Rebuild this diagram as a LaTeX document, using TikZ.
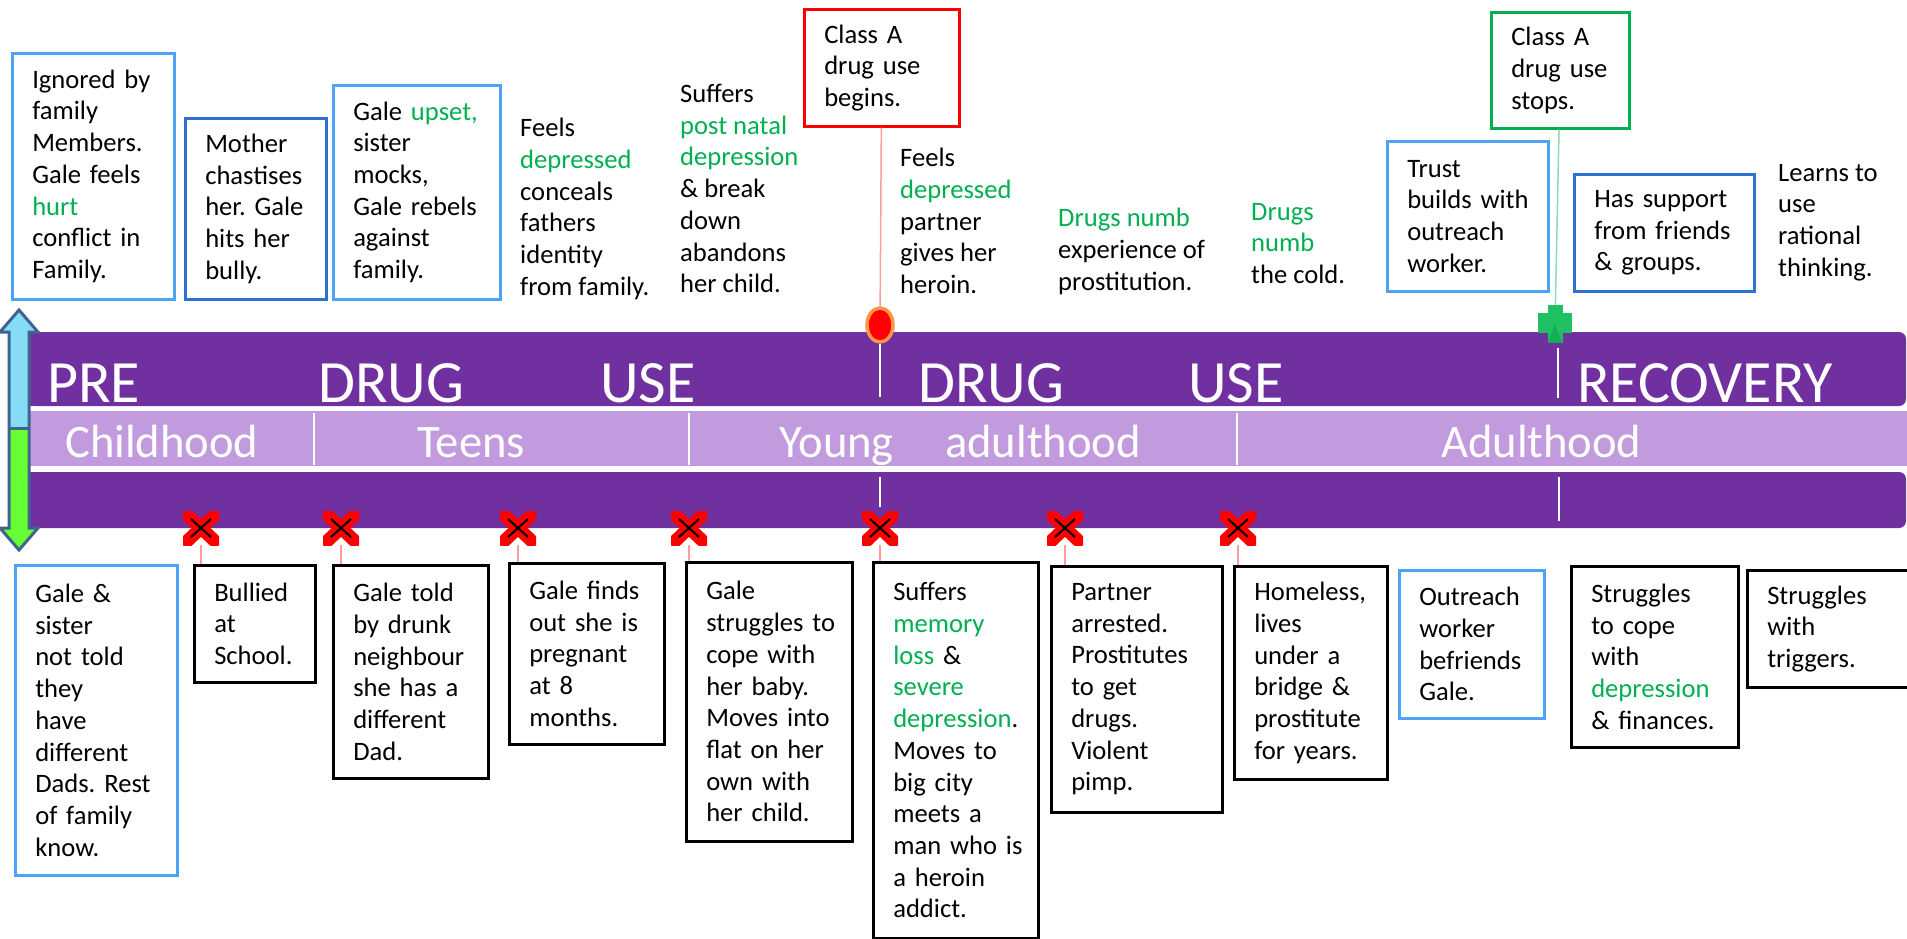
\documentclass[tikz,border=0pt]{standalone}
\usepackage{fontspec}
\setmainfont{Carlito}
\usepackage{xcolor}
\usetikzlibrary{shapes.geometric}

\definecolor{bandpurple}{HTML}{7030A0}
\definecolor{bandlilac}{HTML}{C29BDF}
\definecolor{hlgreen}{HTML}{00B050}
\definecolor{boxblue}{HTML}{4DA3F7}
\definecolor{boxblueD}{HTML}{2C72D2}
\definecolor{linkpink}{HTML}{FF9C9C}
\definecolor{linkgreen}{HTML}{8EDDAE}
\definecolor{arrowedge}{HTML}{41648D}
\definecolor{arrowsky}{HTML}{86DCF6}
\definecolor{arrowlime}{HTML}{66FF33}
\definecolor{ovalring}{HTML}{F79646}
\definecolor{crossgreen}{HTML}{1FC162}

\newcommand{\evfont}{\fontsize{26.6}{31.7}\selectfont}
\newcommand{\grn}[1]{\textcolor{hlgreen}{#1}}

\begin{document}
\begin{tikzpicture}[x=1pt,y=-1pt,
  evbox/.style={draw=black, line width=2.5pt, anchor=north west, align=left,
                inner xsep=20pt, inner ysep=0pt, font=\evfont},
  evtext/.style={anchor=north west, align=left, inner sep=0pt, font=\evfont},
  bandword/.style={anchor=base west, inner sep=0pt, text=white,
                   font=\fontsize{60}{72}\selectfont},
  agelabel/.style={anchor=base west, inner sep=0pt, text=white,
                   font=\fontsize{46.6}{56}\selectfont},
  xmark/.style={minimum width=36pt, minimum height=34pt, inner sep=0pt,
    path picture={
      \draw[red, line width=13pt]
        (path picture bounding box.north west) -- (path picture bounding box.south east)
        (path picture bounding box.south west) -- (path picture bounding box.north east);
      \draw[black, line width=2pt]
        ([shift={(-10pt,-9pt)}]path picture bounding box.center) --
        ([shift={(10pt,9pt)}]path picture bounding box.center)
        ([shift={(-10pt,9pt)}]path picture bounding box.center) --
        ([shift={(10pt,-9pt)}]path picture bounding box.center);
    }},
  plusmark/.style={minimum width=34pt, minimum height=38pt, inner sep=0pt,
    path picture={
      \fill[crossgreen]
        ([xshift=-7.5pt]path picture bounding box.north) rectangle
        ([xshift=7.5pt]path picture bounding box.south);
      \fill[crossgreen]
        ([yshift=-8pt]path picture bounding box.north west) rectangle
        ([yshift=-28pt]path picture bounding box.north east);
      \fill[hlgreen!80!black, opacity=.35]
        (path picture bounding box.center) --
        ([xshift=7.5pt]path picture bounding box.south) --
        ([xshift=-7.5pt]path picture bounding box.south) -- cycle;
    }},
  link/.style={linkpink, line width=1.5pt},
  seam/.style={white, line width=1.5pt}]
\useasboundingbox (0,0) rectangle (1907,938);
\fill[white] (0,0) rectangle (1907,938);
% timeline bands
\fill[bandpurple, rounded corners=7pt] (29,332) rectangle (1906,406);
\fill[bandpurple] (29,332) rectangle (80,406);
\fill[bandlilac] (29,411) rectangle (1907,466);
\fill[bandpurple, rounded corners=7pt] (29,472) rectangle (1906,528);
\fill[bandpurple] (29,472) rectangle (80,528);
\draw[seam] (314,413) -- (314,465);
\draw[seam] (689,413) -- (689,465);
\draw[seam] (1237,413) -- (1237,465);
% band words
\node[bandword] (pre) at (47,402) {PRE};
\node[bandword] (drug1) at (318,402) {DRUG};
\node[bandword] (use1) at (600,402) {USE};
\node[bandword] (drug2) at (918,402) {DRUG};
\node[bandword] (use2) at (1188,402) {USE};
\node[bandword] (recovery) at (1577,402) {RECOVERY};
\node[agelabel] (childhood) at (65,457) {Childhood};
\node[agelabel] (teens) at (417,457) {Teens};
\node[agelabel] (young) at (779,457) {Young};
\node[agelabel] (adulthood) at (945,457) {adulthood};
\node[agelabel] (adult) at (1441,457) {Adulthood};
% up and down arrow
\begin{scope}
  \clip (19,310) -- (38,332) -- (29,332) -- (29,528) -- (38,528) -- (19,550) --
        (0,528) -- (9,528) -- (9,332) -- (0,332) -- cycle;
  \fill[arrowsky] (0,300) rectangle (40,428);
  \fill[arrowlime] (0,428) rectangle (40,560);
\end{scope}
\draw[arrowedge, line width=3pt, line join=miter]
  (19,310) -- (38,332) -- (29,332) -- (29,528) -- (38,528) -- (19,550) --
  (0,528) -- (9,528) -- (9,332) -- (0,332) -- cycle;
\draw[arrowedge, line width=3pt] (9,428) -- (29,428);
% drug use begins / stops
\node[ellipse, draw=ovalring, line width=3.5pt, fill=red, inner sep=0pt,
      minimum width=26pt, minimum height=34pt] (usestart) at (880,325) {};
\node[plusmark] (usestop) at (1555,324) {};
\draw[seam] (usestart.south) -- (880,397);
\draw[seam] (880,477) -- (880,507);
\draw[seam] (1558,348) -- (1558,398);
\draw[seam] (1559,477) -- (1559,521);
% markers
\node[xmark] (xm1) at (201,528) {};
\node[xmark] (xm2) at (341,528) {};
\node[xmark] (xm3) at (518,528) {};
\node[xmark] (xm4) at (689,528) {};
\node[xmark] (xm5) at (880,528) {};
\node[xmark] (xm6) at (1065,528) {};
\node[xmark] (xm7) at (1238,528) {};
% top boxes
\node[evbox, draw=boxblue, text width=122pt, minimum height=246pt] (ignored) at (11,52)
  {Ignored~by\\family\\Members.\\Gale~feels\\\grn{hurt}\\conflict~in\\Family.};
\node[evbox, draw=boxblueD, text width=101pt, minimum height=181pt] (mother) at (184,117)
  {Mother\\chastises\\her.~Gale\\hits~her\\bully.};
\node[evbox, draw=boxblue, text width=127pt, minimum height=214pt] (upset) at (332,84)
  {Gale~\grn{upset,}\\sister\\mocks,\\Gale~rebels\\against\\family.};
\node[evtext] (conceals) at (520,118)
  {Feels\\\grn{depressed}\\conceals\\fathers\\identity\\from~family.};
\node[evtext] (postnatal) at (680,84)
  {Suffers\\\grn{post~natal}\\\grn{depression}\\\&~break\\down\\abandons\\her~child.};
\node[evbox, draw=red, text width=115pt, minimum height=117pt] (classA) at (803,8)
  {Class~A\\drug~use\\begins.};
\node[evtext] (heroin) at (900,148)
  {Feels\\\grn{depressed}\\partner\\gives~her\\heroin.};
\node[evtext] (numb) at (1058,208)
  {\grn{Drugs~numb}\\experience~of\\prostitution.};
\node[evtext] (cold) at (1251,203)
  {\grn{Drugs}\\\grn{numb}\\the~cold.};
\node[evbox, draw=hlgreen, text width=98pt, minimum height=116pt] (stopbox) at (1490,11)
  {Class~A\\drug~use\\stops.};
\node[evbox, draw=boxblue, text width=121pt, minimum height=150pt] (trust) at (1386,140)
  {Trust\\builds~with\\outreach\\worker.};
\node[evbox, draw=boxblueD, text width=140pt, minimum height=117pt] (support) at (1573,173)
  {Has~support\\from~friends\\\&~groups.};
\node[evtext] (rational) at (1778,164)
  {Learns~to\\use\\rational\\thinking.};
\draw[link] (classA) -- (usestart);
\draw[linkgreen, line width=1.5pt] (stopbox) -- (usestop);
% bottom boxes
\node[evbox, draw=boxblue, text width=122pt, minimum height=310pt] (dads) at (14,564)
  {Gale~\&\\sister\\not~told\\they\\have\\different\\Dads.~Rest\\of~family\\know.};
\node[evbox, text width=81pt, minimum height=117pt] (bullied) at (193,564)
  {Bullied\\at\\School.};
\node[evbox, text width=115pt, minimum height=213pt] (neighbour) at (332,564)
  {Gale~told\\by~drunk\\neighbour\\she~has~a\\different\\Dad.};
\node[evbox, text width=115pt, minimum height=181pt] (pregnant) at (508,562)
  {Gale~finds\\out~she~is\\pregnant\\at~8\\months.};
\node[evbox, text width=126pt, minimum height=279pt] (baby) at (685,561)
  {Gale\\struggles~to\\cope~with\\her~baby.\\Moves~into\\flat~on~her\\own~with\\her~child.};
\node[evbox, text width=125pt, minimum height=376pt] (memory) at (872,561)
  {Suffers\\\grn{memory}\\\grn{loss}~\&\\\grn{severe}\\\grn{depression}.\\Moves~to\\big~city\\meets~a\\man~who~is\\a~heroin\\addict.};
\node[evbox, text width=131pt, minimum height=246pt] (arrested) at (1050,565)
  {Partner\\arrested.\\Prostitutes\\to~get\\drugs.\\Violent\\pimp.};
\node[evbox, text width=113pt, minimum height=213pt] (homeless) at (1233,565)
  {Homeless,\\lives\\under~a\\bridge~\&\\prostitute\\for~years.};
\node[evbox, draw=boxblue, text width=105pt, minimum height=148pt] (befriends) at (1398,569)
  {Outreach\\worker\\befriends\\Gale.};
\node[evbox, text width=127pt, minimum height=181pt] (finances) at (1570,565)
  {Struggles\\to~cope\\with\\\grn{depression}\\\&~finances.};
\node[evbox, text width=140pt, minimum height=117pt] (triggers) at (1746,569)
  {Struggles\\with\\triggers.};
% marker links
\draw[link] (xm1) -- (xm1 |- bullied.north);
\draw[link] (xm2) -- (xm2 |- neighbour.north);
\draw[link] (xm3) -- (xm3 |- pregnant.north);
\draw[link] (xm4) -- (xm4 |- baby.north);
\draw[link] (xm5) -- (xm5 |- memory.north);
\draw[link] (xm6) -- (xm6 |- arrested.north);
\draw[link] (xm7) -- (xm7 |- homeless.north);
\end{tikzpicture}
\end{document}
